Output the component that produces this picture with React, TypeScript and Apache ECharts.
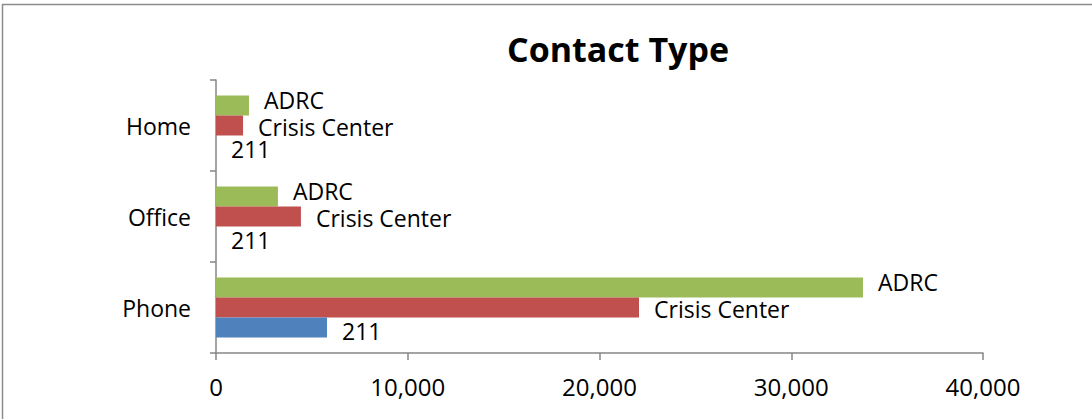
import React, { useEffect, useRef } from "react";
import * as echarts from "echarts";

const categories = ["Phone", "Office", "Home"];
const seriesNames = ["ADRC", "Crisis Center", "211"];
const valuesADRC = [33740, 3230, 1720];
const valuesCrisis = [22060, 4430, 1410];
const values211 = [5790, 0, 0];
const xTicks = [0, 10000, 20000, 30000, 40000];

const colors = ["#9BBB59", "#C0504D", "#4F81BD"];
const labelOffsets = [[0, -6], [0, 1], [0, 3]];
const FONT = "'Open Sans', sans-serif";

export default function App() {
  const ref = useRef<HTMLDivElement>(null);
  useEffect(() => {
    if (!ref.current) return;
    const chart = echarts.init(ref.current, null, { renderer: "svg" });
    const data = [valuesADRC, valuesCrisis, values211];
    chart.setOption({
      animation: false,
      textStyle: { fontFamily: FONT },
      title: {
        text: "Contact Type",
        left: 613,
        top: 27,
        textAlign: "center",
        textStyle: { fontSize: 34, fontWeight: "bold", color: "#000", fontFamily: FONT },
      },
      graphic: [
        {
          type: "rect",
          shape: { x: 2.5, y: 4.5, width: 1200, height: 600 },
          style: { fill: "none", stroke: "#8c8c8c", lineWidth: 1.5 },
          silent: true,
        },
      ],
      grid: { left: 216, right: 109, top: 80, bottom: 66 },
      xAxis: {
        type: "value",
        min: xTicks[0],
        max: xTicks[xTicks.length - 1],
        interval: 10000,
        splitLine: { show: false },
        axisLine: { show: true, lineStyle: { color: "#868686", width: 1.5 } },
        axisTick: { show: true, length: 7, lineStyle: { color: "#868686", width: 1.5 } },
        axisLabel: {
          fontSize: 24,
          color: "#000",
          margin: 21,
          fontFamily: FONT,
          formatter: (v: number) => v.toLocaleString("en-US"),
        },
      },
      yAxis: {
        type: "category",
        data: categories,
        axisLine: { show: true, lineStyle: { color: "#868686", width: 1.5 } },
        axisTick: { show: true, length: 6, lineStyle: { color: "#868686", width: 1.5 } },
        axisLabel: { fontSize: 23, color: "#000", margin: 25, fontFamily: FONT },
      },
      series: seriesNames.map((name, i) => ({
        name,
        type: "bar",
        data: data[i],
        barWidth: 20,
        barGap: "0%",
        itemStyle: { color: colors[i] },
        label: {
          show: true,
          position: "right",
          distance: 15,
          offset: labelOffsets[i],
          formatter: () => name,
          fontSize: 23,
          color: "#000",
          fontFamily: FONT,
        },
      })),
    });
    return () => chart.dispose();
  }, []);
  return (
    <div
      ref={ref}
      style={{ position: "fixed", left: 0, top: 0, width: 1092, height: 419, background: "#fff" }}
    />
  );
}
